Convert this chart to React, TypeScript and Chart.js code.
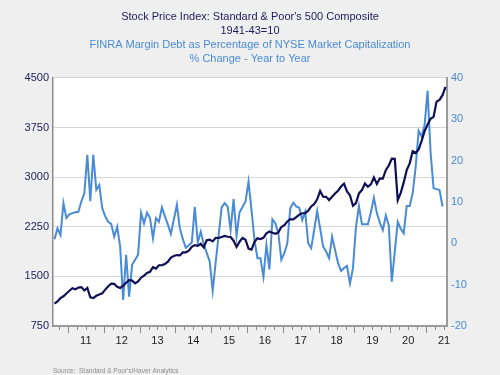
import React, { useEffect, useRef } from 'react';
import { Chart, registerables } from 'chart.js';

Chart.register(...registerables);

// Monthly data, Aug 2010 .. Jul 2021
const START_YEAR = 2010;
const START_MONTH = 8;

// S&P 500 composite, monthly average (left axis)
const spx: number[] = [
  1087, 1122, 1171, 1199, 1242,
  1282, 1321, 1304, 1331, 1338, 1287, 1325, 1185, 1173, 1207, 1226, 1243,
  1300, 1352, 1389, 1386, 1341, 1323, 1359, 1403, 1443, 1437, 1394, 1422,
  1480, 1512, 1551, 1570, 1639, 1618, 1668, 1670, 1688, 1721, 1783, 1807,
  1822, 1817, 1863, 1864, 1889, 1947, 1973, 1961, 1993, 1937, 2045, 2055,
  2028, 2082, 2080, 2095, 2111, 2099, 2095, 2039, 1945, 2024, 2080, 2054,
  1919, 1904, 2022, 2075, 2065, 2083, 2149, 2177, 2158, 2143, 2165, 2247,
  2275, 2330, 2366, 2360, 2395, 2434, 2454, 2456, 2493, 2557, 2594, 2665,
  2790, 2705, 2702, 2654, 2702, 2754, 2794, 2858, 2902, 2785, 2723, 2567,
  2607, 2754, 2804, 2903, 2855, 2890, 2996, 2897, 2982, 2978, 3104, 3176,
  3278, 3277, 2652, 2762, 2920, 3105, 3208, 3392, 3365, 3419, 3549, 3695,
  3794, 3883, 3911, 4141, 4168, 4238, 4364,
];

// FINRA margin debt as % of NYSE market cap, % change y/y (right axis), Aug 2010 .. Jun 2021
const marginDebt: number[] = [
  1.0, 3.6, 2.0, 9.7, 6.1,
  7.0, 7.3, 7.5, 7.6, 10.1, 12.1, 21.4, 10.2, 21.4, 12.9, 14.1, 8.5,
  6.5, 5.2, 4.7, 1.6, 4.0, -0.8, -13.7, -2.8, -12.9, -5.2, -4.0, -2.8,
  7.4, 4.8, 7.4, 6.1, 1.2, 6.1, 5.2, 8.7, 6.5, 4.5, 2.3, 5.8,
  9.3, 3.6, 1.0, -1.1, -0.5, 0.2, 8.8, 0.2, 2.8, -0.2, -2.3, -4.4,
  -11.5, -4.6, 2.0, 8.7, 9.7, 8.9, 3.2, 10.7, 1.8, 7.5, 8.8, 10.1,
  14.9, 8.1, 0.8, -3.6, -3.6, -8.1, -0.4, -6.3, 5.8, 4.8, 2.4, -4.0,
  -2.4, 0.0, 8.5, 9.8, 8.9, 8.6, 5.6, 7.6, 0.0, -1.2, 3.2, 7.8,
  3.6, -0.8, -2.0, -3.6, 1.6, -1.6, -4.8, -6.7, -6.0, -5.5, -9.7, -6.0,
  4.0, 9.0, 4.6, 4.6, 4.6, 7.5, 11.0, 7.3, 5.0, 3.2, 6.7, 4.4,
  -9.3, -2.0, 5.2, 3.5, 2.4, 9.0, 9.0, 12.1, 18.5, 27.2, 25.8, 28.6,
  36.9, 22.0, 13.3, 13.1, 12.9, 8.9,
];

const xTickLabels: string[] = ['11', '12', '13', '14', '15', '16', '17', '18', '19', '20', '21'];
const xTickYears: number[] = [2011, 2012, 2013, 2014, 2015, 2016, 2017, 2018, 2019, 2020, 2021];
const leftTicks: number[] = [750, 1500, 2250, 3000, 3750, 4500];
const rightTicks: number[] = [-20, -10, 0, 10, 20, 30, 40];

const titleLines: string[] = ["Stock Price Index: Standard & Poor's 500 Composite", '1941-43=10'];
const subtitleLines: string[] = ['FINRA Margin Debt as Percentage of NYSE Market Capitalization', '% Change - Year to Year'];
const sourceText = "Source:  Standard & Poor's/Haver Analytics";

const FONT = '"Liberation Sans", Arial, Helvetica, sans-serif';
const NAVY = '#0f0f55';
const BLUE = '#4a8bd6';
const BG = '#efefef';

const X_MIN = START_YEAR + (START_MONTH - 1) / 12;
const X_MAX = X_MIN + 11;

const monthX = (i: number) => START_YEAR + (START_MONTH - 1 + i + 0.5) / 12;

const bgPlugin = {
  id: 'bgPlugin',
  beforeDraw(chart: any) {
    const { ctx, chartArea } = chart;
    ctx.save();
    ctx.fillStyle = BG;
    ctx.fillRect(0, 0, chart.width, chart.height);
    ctx.fillStyle = '#ffffff';
    ctx.fillRect(chartArea.left, chartArea.top, chartArea.right - chartArea.left, chartArea.bottom - chartArea.top);
    ctx.restore();
  },
  afterDraw(chart: any) {
    const { ctx, chartArea } = chart;
    const xs = chart.scales.x;
    ctx.save();
    ctx.strokeStyle = '#8a8a8a';
    ctx.lineWidth = 1;
    const y0 = chartArea.bottom + 1;
    for (let q = Math.ceil(X_MIN * 4); q <= Math.floor(X_MAX * 4); q++) {
      const v = q / 4;
      const px = Math.round(xs.getPixelForValue(v)) + 0.5;
      const major = q % 4 === 0;
      ctx.beginPath();
      ctx.moveTo(px, y0);
      ctx.lineTo(px, y0 + (major ? 6 : 3));
      ctx.stroke();
    }
    ctx.fillStyle = '#8c8c8c';
    ctx.font = `6.5px ${FONT}`;
    ctx.textBaseline = 'middle';
    ctx.textAlign = 'left';
    ctx.fillText(sourceText, 53, 371);
    ctx.restore();
  },
};

export default function App() {
  const ref = useRef<HTMLCanvasElement>(null);

  useEffect(() => {
    document.body.style.margin = '0';
    document.body.style.background = BG;
    const canvas = ref.current!;
    const chart = new Chart(canvas, {
      type: 'line',
      data: {
        datasets: [
          {
            label: 'S&P 500',
            data: spx.map((v, i) => ({ x: monthX(i), y: v })),
            borderColor: NAVY,
            borderWidth: 2.2,
            pointRadius: 0,
            tension: 0,
            yAxisID: 'y',
            order: 0,
          },
          {
            label: 'Margin debt',
            data: marginDebt.map((v, i) => ({ x: monthX(i), y: v })),
            borderColor: BLUE,
            borderWidth: 2,
            pointRadius: 0,
            tension: 0,
            yAxisID: 'y1',
            order: 1,
          },
        ],
      },
      options: {
        responsive: false,
        animation: false,
        events: [],
        layout: { padding: { left: 0, right: 0, top: 0, bottom: 29 } },
        plugins: {
          legend: { display: false },
          tooltip: { enabled: false },
          title: {
            display: true,
            text: titleLines,
            color: '#1c1c5c',
            font: { family: FONT, size: 11, weight: 'normal', lineHeight: 1.27 },
            padding: { top: 10, bottom: 0 },
          },
          subtitle: {
            display: true,
            text: subtitleLines,
            color: BLUE,
            font: { family: FONT, size: 11, weight: 'normal', lineHeight: 1.27 },
            padding: { top: 0, bottom: 12 },
          },
        },
        scales: {
          x: {
            type: 'linear',
            min: X_MIN,
            max: X_MAX,
            afterBuildTicks: (scale: any) => {
              scale.ticks = xTickYears.map((y) => ({ value: y + 0.5 }));
            },
            afterFit: (scale: any) => {
              scale.height = 20;
            },
            ticks: {
              autoSkip: false,
              maxRotation: 0,
              padding: 2,
              color: '#222222',
              font: { family: FONT, size: 11 },
              callback: (_v: any, idx: number) => xTickLabels[idx],
            },
            grid: { display: true, drawOnChartArea: false, drawTicks: true, tickLength: 6, tickColor: 'rgba(0,0,0,0)' },
            border: { display: true, color: '#9a9a9a', width: 2 },
          },
          y: {
            type: 'linear',
            position: 'left',
            min: 750,
            max: 4500,
            afterBuildTicks: (scale: any) => {
              scale.ticks = leftTicks.map((v) => ({ value: v }));
            },
            afterFit: (scale: any) => {
              scale.width = 53;
            },
            ticks: {
              color: '#1c1c5c',
              padding: 4,
              font: { family: FONT, size: 11 },
              callback: (v: any) => String(v),
            },
            grid: { color: '#d6d6d6', lineWidth: 1, drawTicks: false },
            border: { display: true, color: '#8c8c8c', width: 1.5 },
          },
          y1: {
            type: 'linear',
            position: 'right',
            min: -20,
            max: 40,
            afterBuildTicks: (scale: any) => {
              scale.ticks = rightTicks.map((v) => ({ value: v }));
            },
            afterFit: (scale: any) => {
              scale.width = 53;
            },
            ticks: {
              color: BLUE,
              padding: 4,
              font: { family: FONT, size: 11 },
              callback: (v: any) => String(v),
            },
            grid: { drawOnChartArea: false, drawTicks: false },
            border: { display: true, color: '#9a9a9a', width: 2 },
          },
        },
      },
      plugins: [bgPlugin],
    } as any);
    return () => chart.destroy();
  }, []);

  return (
    <div style={{ position: 'absolute', left: 0, top: 0, width: 500, height: 375 }}>
      <canvas ref={ref} width={500} height={375} style={{ display: 'block', width: 500, height: 375 }} />
    </div>
  );
}
